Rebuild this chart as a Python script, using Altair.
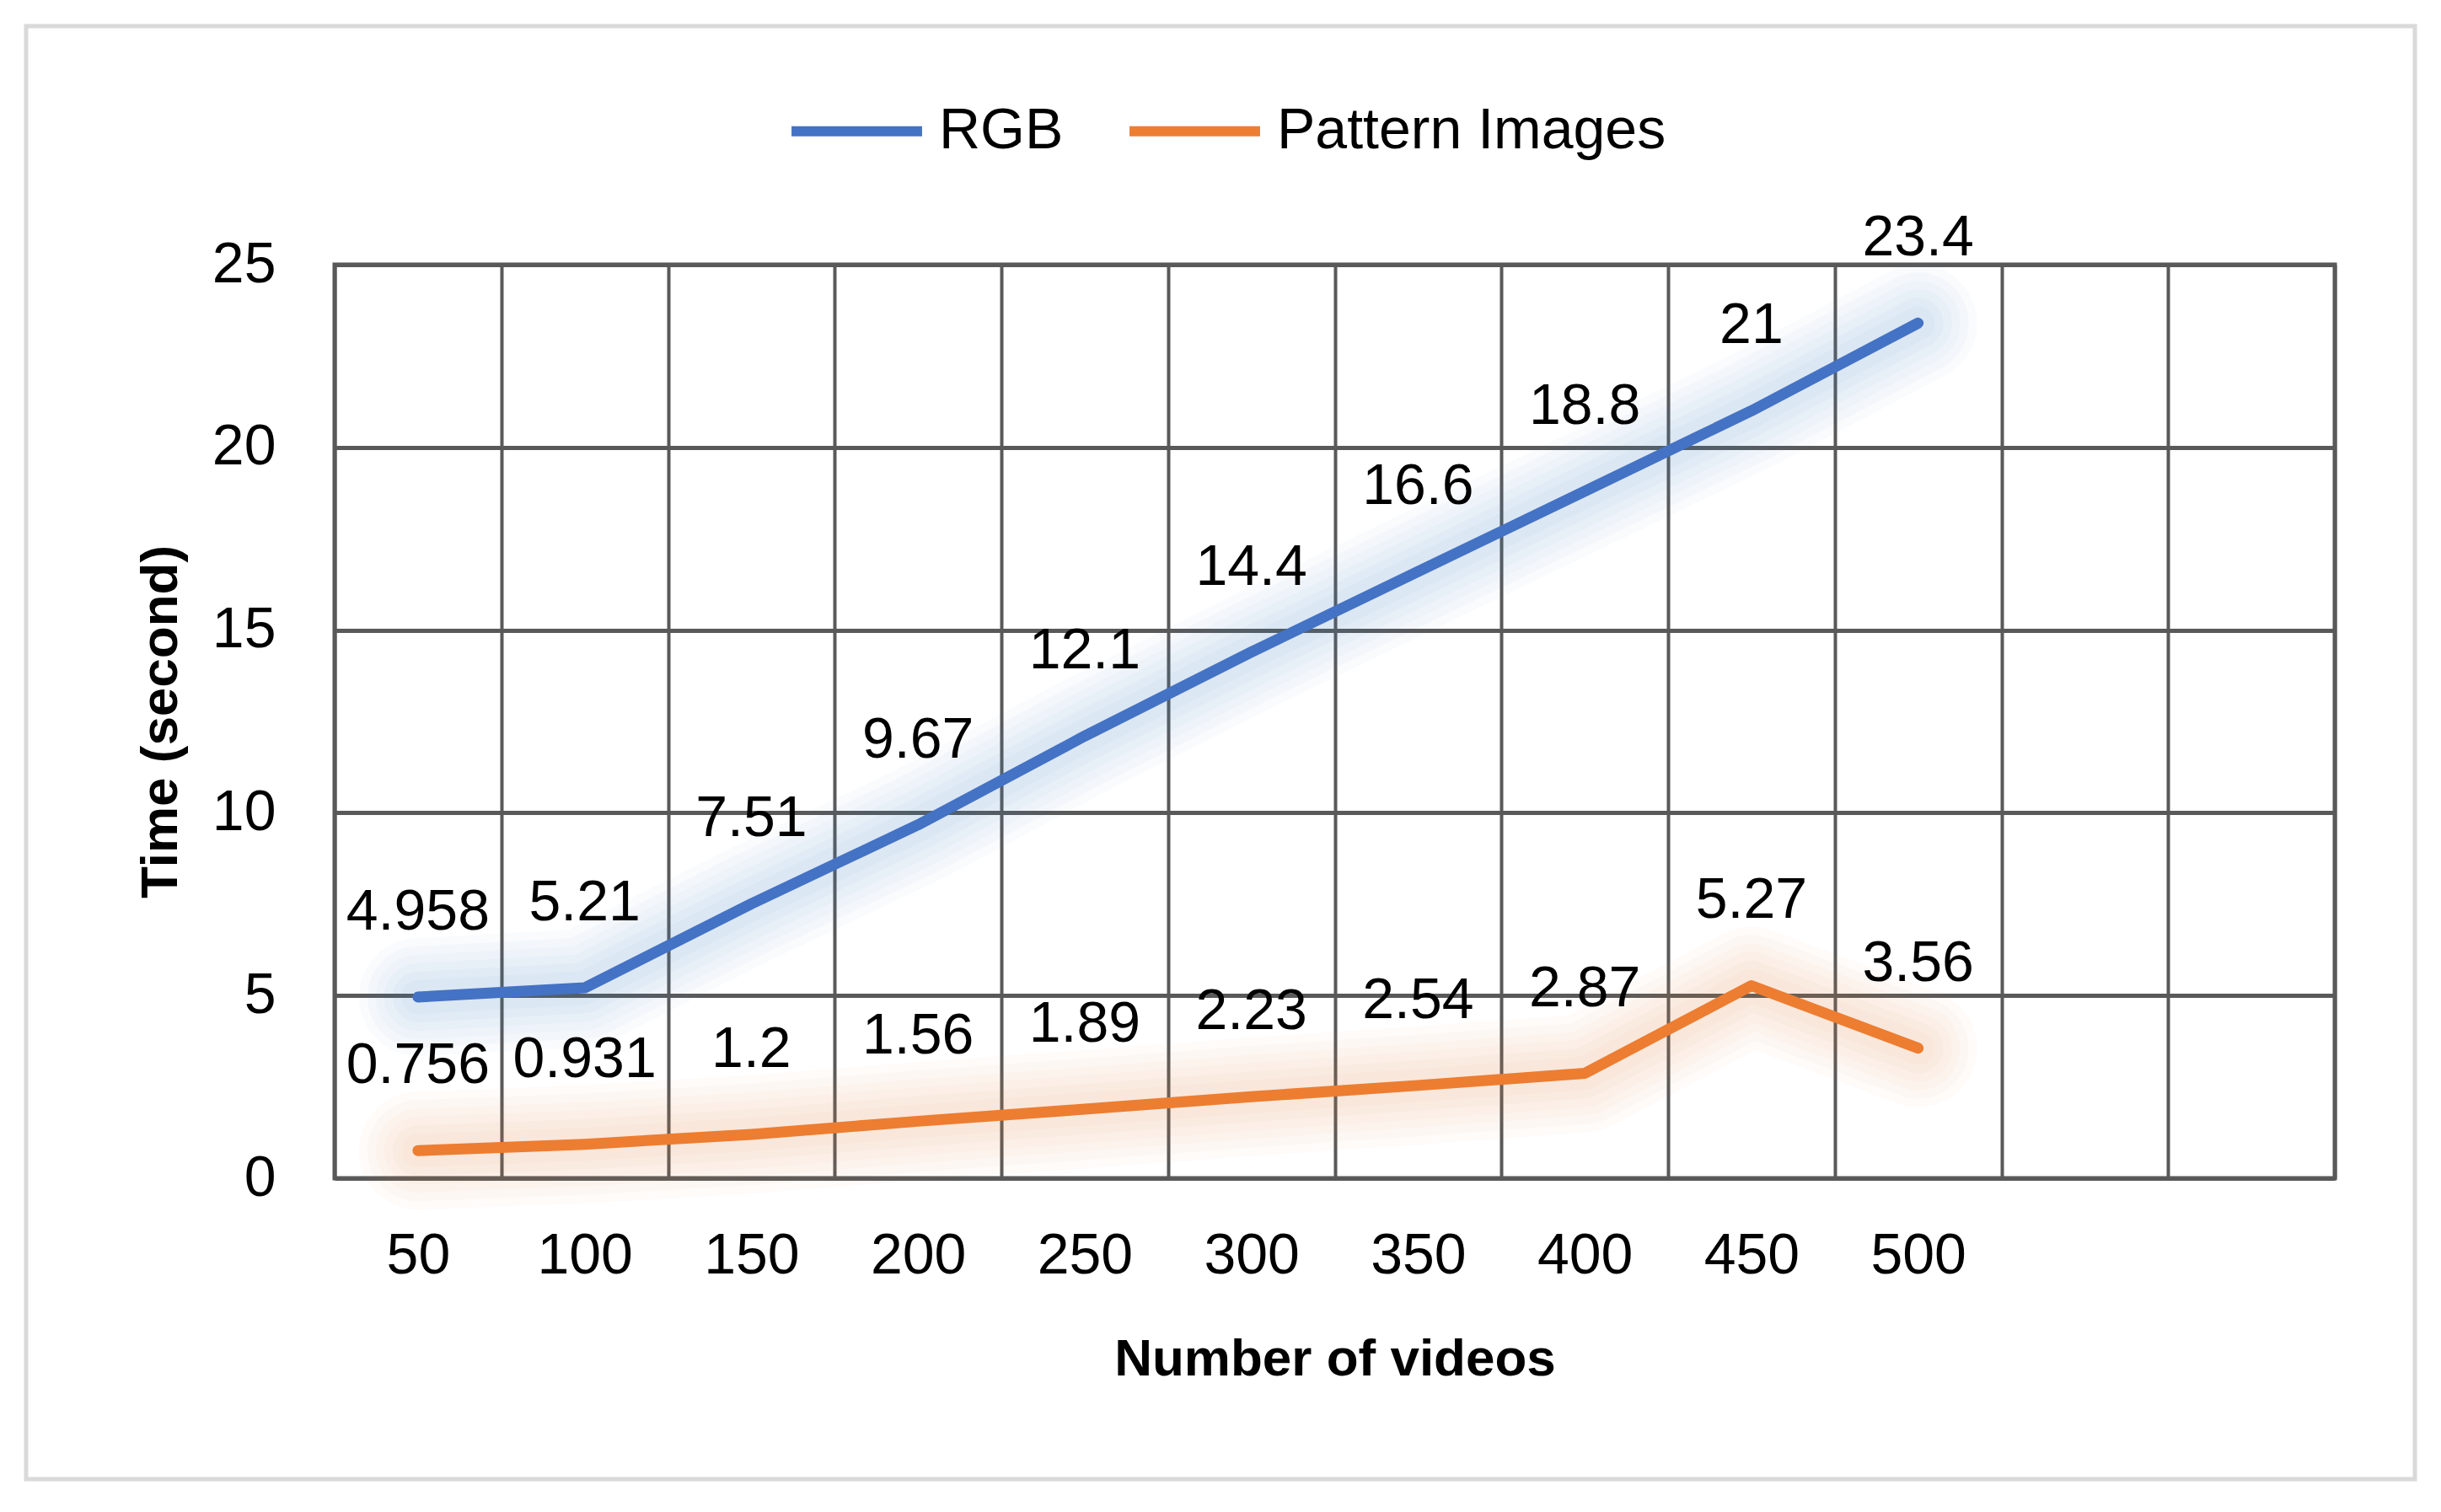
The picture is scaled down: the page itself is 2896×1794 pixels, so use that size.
import altair as alt
import pandas as pd

categories = ["50", "100", "150", "200", "250", "300", "350", "400", "450", "500"]
empty_slots = [" ", "  "]
rgb_values = [4.958, 5.21, 7.51, 9.67, 12.1, 14.4, 16.6, 18.8, 21, 23.4]
pattern_values = [0.756, 0.931, 1.2, 1.56, 1.89, 2.23, 2.54, 2.87, 5.27, 3.56]
series_names = ["RGB", "Pattern Images"]
series_colors = ["#4472C4", "#ED7D31"]
y_ticks = [0, 5, 10, 15, 20, 25]

rows = []
for name, vals in zip(series_names, [rgb_values, pattern_values]):
    for i, (c, v) in enumerate(zip(categories, vals)):
        rows.append({"series": name, "videos": c, "time": v, "order": i})
df = pd.DataFrame(rows)

FONT = "Liberation Sans"
W, H = 2373, 1084

x_enc = alt.X("videos:N", sort=None,
              scale=alt.Scale(domain=categories + empty_slots, paddingInner=0, paddingOuter=0),
              axis=alt.Axis(title="Number of videos", tickBand="extent", labelAngle=0,
                            grid=True,
                            labelFontSize=68, labelPadding=58, ticks=False, domain=False,
                            gridColor="#595959", gridWidth=4, gridOpacity=1,
                            titleFontSize=62, titleFontWeight="bold",
                            titleY=214, titleBaseline="middle"))
y_enc = alt.Y("time:Q", scale=alt.Scale(domain=[0, 25], nice=False),
              axis=alt.Axis(title="Time (second)", values=y_ticks, labelFontSize=68,
                            labelPadding=70, ticks=False, domain=False,
                            gridColor="#595959", gridWidth=5, gridOpacity=1,
                            titleFontSize=62, titleFontWeight="bold",
                            titleX=-207, titleY=H / 2, titleAngle=-90,
                            titleBaseline="middle", titleAlign="center"))
color_scale = alt.Scale(domain=series_names, range=series_colors)

base = alt.Chart(df)

glows = []
for name, col in zip(series_names, series_colors):
    for w in [140, 120, 100, 80, 60, 40]:
        glows.append(base.transform_filter(alt.datum.series == name).mark_line(
            strokeWidth=w, opacity=0.03, strokeCap="round", strokeJoin="round",
            color=col).encode(x=x_enc, y=y_enc, order="order:Q"))

lines = base.mark_line(strokeWidth=13, strokeCap="round", strokeJoin="round").encode(
    x=x_enc, y=y_enc, order="order:Q",
    color=alt.Color("series:N", scale=color_scale, sort=series_names,
                    legend=alt.Legend(title=None, orient="none", direction="horizontal",
                                      legendX=536, legendY=-242, symbolType="stroke",
                                      symbolSize=24000, symbolStrokeWidth=12,
                                      labelFontSize=68, labelOffset=14, labelLimit=0,
                                      columnPadding=54, labelColor="black")))

labels = base.mark_text(fontSize=68, dy=-100, baseline="middle", color="black",
                        font=FONT).encode(
    x=x_enc, y=y_enc, text="time:Q")

frame = alt.Chart(pd.DataFrame({"a": [0]})).mark_rect(
    filled=False, stroke="#d9d9d9", strokeWidth=5).encode(
    x=alt.value(-366), x2=alt.value(2468), y=alt.value(-283), y2=alt.value(1441))

chart = alt.layer(frame, *glows, lines, labels).properties(
    width=W, height=H,
    autosize=alt.AutoSizeParams(type="none"),
    padding={"left": 389, "top": 306, "right": 110, "bottom": 370},
).configure(font=FONT).configure_view(
    stroke="#595959", strokeWidth=5
).configure_axis(labelColor="black", titleColor="black", labelFont=FONT, titleFont=FONT
).configure_legend(labelFont=FONT)

chart.save("out.html", embed_options={"renderer": "svg", "actions": False})
